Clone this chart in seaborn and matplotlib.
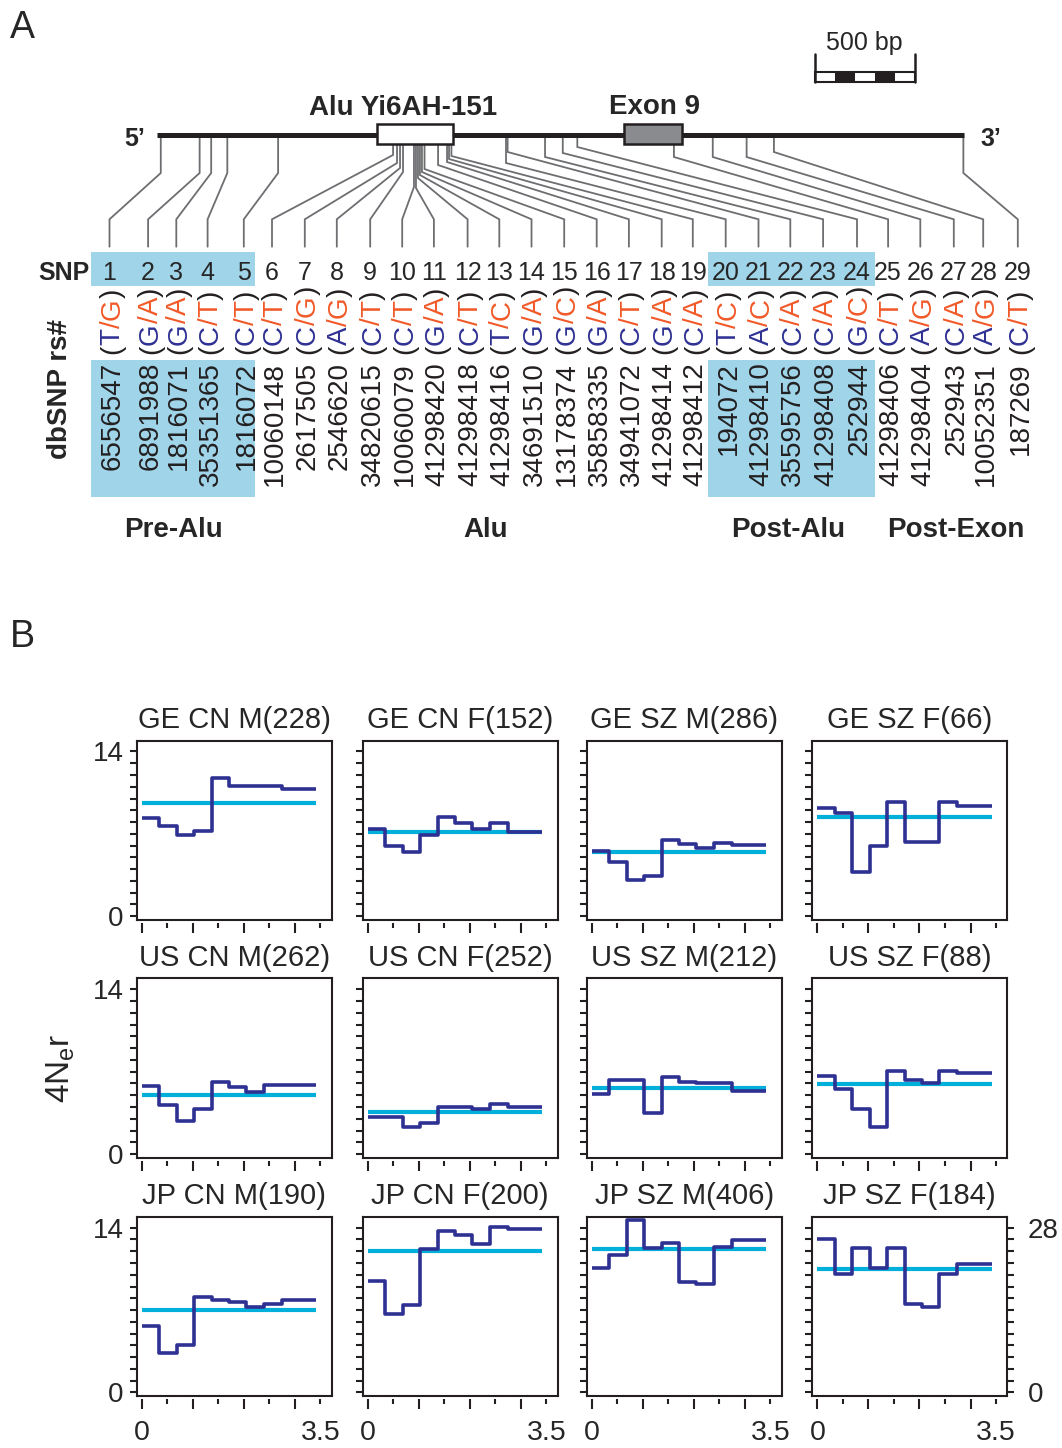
import matplotlib
matplotlib.use("Agg")
import matplotlib.pyplot as plt
import seaborn as sns
import pandas as pd
from matplotlib.patches import Rectangle
from matplotlib.font_manager import FontProperties

# ---------------------------------------------------------------- data
snp_ids = ["1", "2", "3", "4", "5", "6", "7", "8", "9", "10", "11", "12", "13", "14", "15",
           "16", "17", "18", "19", "20", "21", "22", "23", "24", "25", "26", "27", "28", "29"]
allele_1 = ["T", "G", "G", "C", "C", "C", "C", "A", "C", "C", "G", "C", "T", "G", "G",
            "G", "C", "G", "C", "T", "A", "C", "C", "G", "C", "A", "C", "A", "C"]
allele_2 = ["G", "A", "A", "T", "T", "T", "G", "G", "T", "T", "A", "T", "C", "A", "C",
            "A", "T", "A", "A", "C", "C", "A", "A", "C", "T", "G", "A", "G", "T"]
rs_ids = ["6556547", "6891988", "1816071", "35351365", "1816072", "10060148", "2617505",
          "2546620", "34820615", "10060079", "41298420", "41298418", "41298416", "34691510",
          "13178374", "35858335", "34941072", "41298414", "41298412", "194072", "41298410",
          "35595756", "41298408", "252944", "41298406", "41298404", "252943", "10052351",
          "187269"]
# approximate SNP positions along the drawn region (bp)
snp_pos_bp = [17, 212, 270, 351, 606, 1183, 1203, 1218, 1233, 1288, 1298, 1308, 1318, 1328,
              1341, 1409, 1454, 1464, 1476, 1750, 1758, 1946, 2035, 2108, 2593, 2788, 2958,
              3095, 4046]
gene_len_bp = 4050
alu_bp = (1104, 1482)
exon_bp = (2341, 2633)
scale_bp = 500
group_names = ["Pre-Alu", "Alu", "Post-Alu", "Post-Exon"]

# panel B
win_edges = [0.0, 0.34, 0.68, 1.03, 1.37, 1.71, 2.05, 2.39, 2.74, 3.08, 3.42]
titles = ["GE CN M(228)", "GE CN F(152)", "GE SZ M(286)", "GE SZ F(66)",
          "US CN M(262)", "US CN F(252)", "US SZ M(212)", "US SZ F(88)",
          "JP CN M(190)", "JP CN F(200)", "JP SZ M(406)", "JP SZ F(184)"]
ge_cn_m = [8.34, 7.64, 6.90, 7.27, 11.74, 11.03, 11.03, 11.03, 10.77, 10.77]
ge_cn_f = [7.41, 5.94, 5.43, 6.90, 8.40, 7.92, 7.41, 7.92, 7.13, 7.13]
ge_sz_m = [5.57, 4.64, 3.12, 3.40, 6.49, 6.13, 5.79, 6.21, 6.07, 6.07]
ge_sz_f = [9.17, 8.74, 3.74, 5.99, 9.67, 6.35, 6.35, 9.67, 9.36, 9.36]
us_cn_m = [5.74, 4.16, 2.77, 3.87, 6.08, 5.71, 5.29, 5.88, 5.88, 5.88]
us_cn_f = [3.17, 3.17, 2.29, 2.63, 4.04, 4.04, 3.87, 4.24, 4.04, 4.04]
us_sz_m = [5.07, 6.28, 6.28, 3.52, 6.54, 6.14, 6.00, 6.00, 5.35, 5.35]
us_sz_f = [6.62, 5.49, 3.86, 2.31, 7.04, 6.25, 6.06, 7.04, 6.85, 6.85]
jp_cn_m = [5.63, 3.38, 4.03, 8.11, 7.89, 7.66, 7.27, 7.55, 7.83, 7.83]
jp_cn_f = [9.44, 6.68, 7.46, 12.20, 13.75, 13.38, 12.62, 14.03, 13.86, 13.86]
jp_sz_m = [10.54, 11.67, 14.68, 12.29, 12.71, 9.36, 9.19, 12.37, 12.99, 12.99]
jp_sz_f = [26.0, 20.1, 24.5, 21.2, 24.5, 15.0, 14.5, 20.1, 21.9, 21.9]   # right axis, 0-28
panel_means = [9.62, 7.13, 5.45, 8.41, 5.03, 3.59, 5.58, 5.94, 7.04, 12.03, 12.17, 20.9]
panel_series = [ge_cn_m, ge_cn_f, ge_sz_m, ge_sz_f, us_cn_m, us_cn_f, us_sz_m, us_sz_f,
                jp_cn_m, jp_cn_f, jp_sz_m, jp_sz_f]
panel_ymax = [14, 14, 14, 14, 14, 14, 14, 14, 14, 14, 14, 28]

# ---------------------------------------------------------------- layout / style
W, H = 1062, 1448
BLUE = "#2e3192"
ORANGE = "#f15a29"
CYAN = "#00b0da"
HL = "#9fd4e9"
GRAY = "#6d6e71"
DARK = "#231f20"

gene_x0, px_per_bp, gene_y = 157.4, 0.1992, 135.0
box_top, box_bot = 124.3, 144.3
snp_col_x = [109.5, 148.1, 176.3, 207.6, 243.8, 272.0, 304.8, 336.8, 370.2, 402.2, 433.9,
             467.6, 499.3, 531.5, 564.2, 596.7, 628.9, 661.7, 692.8, 725.7, 758.5, 790.3,
             823.1, 857.0, 888.1, 920.3, 953.8, 983.2, 1017.8]
bend_y = [173, 173, 173, 173, 173, 155, 163, 168, 172, 187, 188, 178, 175, 172, 169, 165,
          162, 159, 156, 163, 152, 157, 153, 147, 157, 157, 157, 152, 173]
highlight_x = [(90.9, 254.8), (708.0, 875.0)]
group_x = [173, 485.5, 788, 955.5]

sns.set_style("ticks")
plt.rcParams["font.family"] = ["Liberation Sans", "DejaVu Sans"]
plt.rcParams["mathtext.fontset"] = "custom"
plt.rcParams["mathtext.rm"] = "Liberation Sans"
plt.rcParams["mathtext.it"] = "Liberation Sans:italic"

fig = plt.figure(figsize=(W / 100, H / 100), dpi=100)
ov = fig.add_axes([0, 0, 1, 1])
ov.set_xlim(0, W)
ov.set_ylim(H, 0)
ov.axis("off")


def gx(bp):
    return gene_x0 + bp * px_per_bp


# panel letters
ov.text(10, 38, "A", fontsize=27, ha="left", va="baseline")
ov.text(10, 647, "B", fontsize=27, ha="left", va="baseline")

# gene line and boxes
ov.plot([gx(0), gx(gene_len_bp)], [gene_y, gene_y], color=DARK, lw=3.6,
        solid_capstyle="butt", zorder=3)
ov.add_patch(Rectangle((gx(alu_bp[0]), box_top), (alu_bp[1] - alu_bp[0]) * px_per_bp,
                       box_bot - box_top, fc="white", ec=DARK, lw=1.8, zorder=4))
ov.add_patch(Rectangle((gx(exon_bp[0]), box_top), (exon_bp[1] - exon_bp[0]) * px_per_bp,
                       box_bot - box_top, fc="#8a8b8f", ec=DARK, lw=1.8, zorder=4))
ov.text(403.5, 115, "Alu Yi6AH-151", fontsize=20, fontweight="bold", ha="center",
        va="baseline")
ov.text(654.5, 113.5, "Exon 9", fontsize=20, fontweight="bold", ha="center", va="baseline")
ov.text(134.5, 146, "5\u2019", fontsize=18, fontweight="bold", ha="center", va="baseline")
ov.text(990.5, 146, "3\u2019", fontsize=18, fontweight="bold", ha="center", va="baseline")

# scale bar
sb_l = 815.0
sb_r = sb_l + scale_bp * px_per_bp
seg = (sb_r - sb_l) / 5
for k in range(5):
    ov.add_patch(Rectangle((sb_l + k * seg, 72), seg, 10,
                           fc=DARK if k % 2 else "white", ec="none", zorder=3))
ov.add_patch(Rectangle((sb_l, 72), sb_r - sb_l, 10, fc="none", ec=DARK, lw=1.5, zorder=4))
ov.plot([sb_l, sb_l], [54, 82], color=DARK, lw=1.8, zorder=4)
ov.plot([sb_r, sb_r], [54, 82], color=DARK, lw=1.8, zorder=4)
ov.text((sb_l + sb_r) / 2, 50, "500 bp", fontsize=18, ha="center", va="baseline")

# connectors
for i, bp in enumerate(snp_pos_bp):
    ax_ = gx(bp)
    inside = (alu_bp[0] <= bp <= alu_bp[1]) or (exon_bp[0] <= bp <= exon_bp[1])
    y0 = box_bot if inside else gene_y
    ov.plot([ax_, ax_, snp_col_x[i], snp_col_x[i]], [y0, bend_y[i], 219.3, 246.7],
            color=GRAY, lw=1.3, zorder=2, solid_joinstyle="miter")

# highlights
for xl, xr in highlight_x:
    ov.add_patch(Rectangle((xl, 251.7), xr - xl, 34, fc=HL, ec="none", zorder=1))
    ov.add_patch(Rectangle((xl, 360), xr - xl, 137.3, fc=HL, ec="none", zorder=1))

ov.text(90, 280, "SNP", fontsize=18, fontweight="bold", ha="right", va="baseline")
ov.text(60, 389, "dbSNP rs#", fontsize=20, fontweight="bold", rotation=90,
        ha="center", va="center")

renderer = fig.canvas.get_renderer()
fp = FontProperties(family=["Liberation Sans"], size=20)


def width_px(s):
    if not s:
        return 0.0
    w, h, d = renderer.get_text_width_height_descent(s, fp, ismath=False)
    return w


for i in range(len(snp_ids)):
    xc = snp_col_x[i]
    ov.text(xc, 280, snp_ids[i], fontsize=18, ha="center", va="baseline", zorder=5)
    pieces = [("(", DARK), (allele_1[i], BLUE), ("/", ORANGE), (allele_2[i], ORANGE),
              (")", DARK)]
    acc = ""
    for s, col in pieces:
        ov.text(xc + 10, 354 - width_px(acc), s, fontproperties=fp, color=col,
                rotation=90, rotation_mode="anchor", ha="left", va="baseline", zorder=5)
        acc += s
    ov.text(xc + 10, 362, rs_ids[i], fontproperties=fp, color=DARK, rotation=90,
            rotation_mode="anchor", ha="right", va="baseline", zorder=5)

for name, x in zip(group_names, group_x):
    ov.text(x, 537, name, fontsize=20, fontweight="bold", ha="center", va="baseline")

ov.text(61, 1068, "4N$_{\\mathregular{e}}$r", fontsize=24, rotation=90,
        ha="center", va="center")

# ---------------------------------------------------------------- panel B
col_left = [136.7, 362.7, 586.7, 812.3]
row_top = [740.5, 978.3, 1216.7]
aw, ah = 195.0, 179.3

for i, (title, vals, mean, ymax) in enumerate(zip(titles, panel_series, panel_means,
                                                   panel_ymax)):
    r, c = divmod(i, 4)
    ax = fig.add_axes([col_left[c] / W, 1 - (row_top[r] + ah) / H, aw / W, ah / H])
    mean_df = pd.DataFrame({"x": [win_edges[0], win_edges[-1]], "y": [mean, mean]})
    step_df = pd.DataFrame({"x": win_edges, "y": vals + [vals[-1]]})
    sns.lineplot(data=mean_df, x="x", y="y", ax=ax, color=CYAN, lw=3.0, estimator=None,
                 solid_capstyle="butt")
    sns.lineplot(data=step_df, x="x", y="y", ax=ax, color=BLUE, lw=2.6, estimator=None,
                 drawstyle="steps-post", solid_capstyle="butt")
    ax.set_xlabel("")
    ax.set_ylabel("")
    ax.set_xlim(-0.1, 3.72)
    unit = ymax / 14
    ax.set_ylim(-0.3 * unit, 14.93 * unit)
    yt = [k * unit for k in range(15)]
    ax.set_yticks(yt)
    ylabels = [""] * 15
    if c == 0 or i == 11:
        ylabels[0] = "0"
        ylabels[-1] = f"{ymax:g}"
    ax.set_yticklabels(ylabels)
    ax.set_xticks([0, 1, 2, 3])
    ax.set_xticks([0.5, 1.5, 2.5, 3.5], minor=True)
    if r == 2:
        ax.set_xticklabels(["0", "", "", ""])
        ax.set_xticklabels(["", "", "", "3.5"], minor=True)
    else:
        ax.set_xticklabels(["", "", "", ""])
        ax.set_xticklabels(["", "", "", ""], minor=True)
    for sp in ax.spines.values():
        sp.set_linewidth(1.5)
        sp.set_color(DARK)
    ax.spines["bottom"].set_position(("outward", 2.5))
    ax.spines["bottom"].set_visible(False)
    ax.plot([0, 1], [0, 0], transform=ax.transAxes, color=DARK, lw=1.5, clip_on=False,
            solid_capstyle="projecting", zorder=5)
    ax.tick_params(axis="y", which="major", direction="out", length=5, width=1.5,
                   color=DARK, labelsize=20, pad=4.5)
    ax.tick_params(axis="x", which="major", direction="out", length=7, width=1.5,
                   color=DARK, labelsize=20.5, pad=7.5)
    ax.tick_params(axis="x", which="minor", direction="out", length=3.6, width=1.5,
                   color=DARK, labelsize=20.5, pad=10.9)
    if i == 11:
        ax.tick_params(axis="y", which="major", left=True, right=True, labelleft=False,
                       labelright=True, pad=9.5)
    ax.set_title(title, fontsize=21, pad=9)

fig.savefig("out.png", dpi=100)
